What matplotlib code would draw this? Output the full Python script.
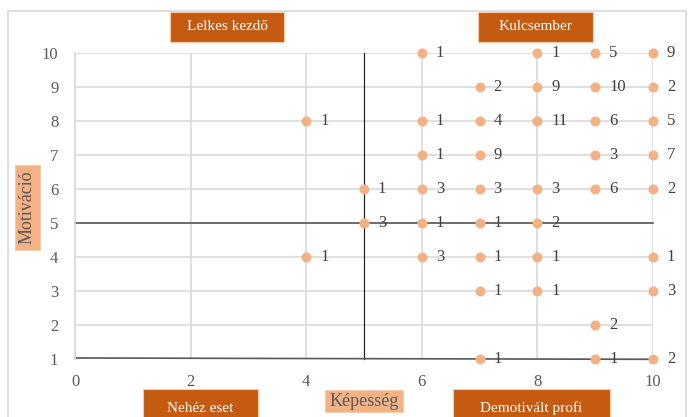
import matplotlib.pyplot as plt
from matplotlib.patches import Rectangle

plt.rcParams['font.family'] = ['Liberation Serif', 'DejaVu Serif']

# skill (Képesség), motivation (Motiváció), number of people
kepesseg = [4, 4,
            5, 5,
            6, 6, 6, 6, 6, 6,
            7, 7, 7, 7, 7, 7, 7, 7,
            8, 8, 8, 8, 8, 8, 8,
            9, 9, 9, 9, 9, 9, 9,
            10, 10, 10, 10, 10, 10, 10, 10]
motivacio = [8, 4,
             6, 5,
             10, 8, 7, 6, 5, 4,
             9, 8, 7, 6, 5, 4, 3, 1,
             10, 9, 8, 6, 5, 4, 3,
             10, 9, 8, 7, 6, 2, 1,
             10, 9, 8, 7, 6, 4, 3, 1]
letszam = [1, 1,
           1, 3,
           1, 1, 1, 3, 1, 3,
           2, 4, 9, 3, 1, 1, 1, 1,
           1, 9, 11, 3, 2, 1, 1,
           5, 10, 6, 3, 6, 2, 1,
           9, 2, 5, 7, 2, 1, 3, 2]

# quadrant divider lines
hatar_x = [0, 10]
hatar_y = [5, 5]
fugg_x = [5, 5]
fugg_y = [1, 10]
also_x = [0, 10]
also_y = [1.03, 0.99]

W, H = 688, 417
fig = plt.figure(figsize=(W / 100, H / 100), dpi=100)
ax = fig.add_axes([75 / W, 1 - 359 / H, (653 - 75) / W, (359 - 53) / H])

ax.set_xlim(0, 10)
ax.set_ylim(1, 10)
ax.set_xticks(range(0, 11, 2))
ax.set_yticks(range(1, 11))
ax.grid(True, color='#D9D9D9', linewidth=1.2)
ax.set_axisbelow(True)
for s in ['top', 'right', 'bottom']:
    ax.spines[s].set_visible(False)
ax.spines['left'].set_color('#D9D9D9')
ax.spines['left'].set_linewidth(1.2)
ax.tick_params(length=0, labelsize=12, labelcolor='#595959')
ax.tick_params(axis='x', pad=11)
ax.tick_params(axis='y', pad=12)

ax.plot(hatar_x, hatar_y, color='#595959', linewidth=1.2, clip_on=False, zorder=2)
ax.plot(fugg_x, fugg_y, color='#262626', linewidth=0.9, clip_on=False, zorder=2)
ax.plot(also_x, also_y, color='#595959', linewidth=1.2, clip_on=False, zorder=2)

ax.scatter(kepesseg, motivacio, s=38, color='#F4B183', zorder=3, clip_on=False)
for x, y, n in zip(kepesseg, motivacio, letszam):
    ax.annotate(str(n), (x, y), xytext=(10, 0), textcoords='offset points',
                va='center', ha='left', fontsize=12, color='#404040')

# outer chart frame
fig.patches.append(Rectangle((8 / W, -0.1), (686 - 8) / W, 1.1 - 11 / H,
                             transform=fig.transFigure, fill=False,
                             edgecolor='#D9D9D9', linewidth=1.2))


def box(x0, y0, x1, y1, text, face, tcolor, size, rot=0):
    fig.patches.append(Rectangle((x0 / W, 1 - y1 / H), (x1 - x0) / W, (y1 - y0) / H,
                                 transform=fig.transFigure, facecolor=face,
                                 edgecolor='#F8CBAD', linewidth=0.8, zorder=5))
    fig.text((x0 + x1) / 2 / W, 1 - (y0 + y1) / 2 / H, text, ha='center', va='center',
             color=tcolor, fontsize=size, rotation=rot, zorder=6)


box(170, 12, 284, 42, 'Lelkes kezdő', '#C55A11', 'white', 11)
box(478, 12, 593, 42, 'Kulcsember', '#C55A11', 'white', 11)
box(143, 389, 258, 428, 'Nehéz eset', '#C55A11', 'white', 11)
box(453, 389, 610, 428, 'Demotivált profi', '#C55A11', 'white', 11)
box(325, 390, 403, 412, 'Képesség', '#F4B183', '#595959', 13)
box(15, 165, 40, 250, 'Motiváció', '#F4B183', '#595959', 13, rot=90)

fig.savefig('out.png', dpi=100)
